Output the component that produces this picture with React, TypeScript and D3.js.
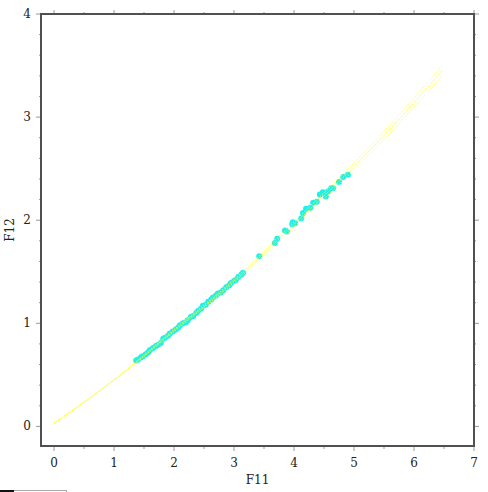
import React from "react";
import * as d3 from "d3";

// observed points (F11, F12)
const F11 = [
  1.37, 1.4, 1.45, 1.48, 1.53, 1.57, 1.6, 1.65, 1.7, 1.73, 1.78, 1.82, 1.85, 1.9, 1.93, 1.98,
  2.03, 2.07, 2.1, 2.15, 2.2, 2.23, 2.28, 2.32, 2.37, 2.4, 2.45, 2.48, 2.53, 2.57, 2.62, 2.65,
  2.7, 2.73, 2.78, 2.82, 2.87, 2.92, 2.95, 3.0, 3.03, 3.07, 3.12, 3.15, 3.42, 3.68, 3.72, 3.85,
  3.88, 3.97, 3.98, 4.02, 4.12, 4.15, 4.2, 4.27, 4.32, 4.38, 4.43, 4.48, 4.53, 4.57, 4.62, 4.65,
  4.75, 4.82, 4.9,
];
const F12 = [
  0.64, 0.65, 0.67, 0.68, 0.7, 0.72, 0.74, 0.76, 0.78, 0.79, 0.81, 0.85, 0.86, 0.88, 0.9, 0.92,
  0.94, 0.96, 0.98, 1.0, 1.01, 1.03, 1.06, 1.07, 1.1, 1.12, 1.14, 1.17, 1.18, 1.21, 1.23, 1.25,
  1.27, 1.29, 1.3, 1.32, 1.35, 1.37, 1.39, 1.41, 1.42, 1.45, 1.47, 1.49, 1.65, 1.78, 1.82, 1.9,
  1.89, 1.96, 1.98, 1.97, 2.02, 2.07, 2.11, 2.12, 2.17, 2.18, 2.25, 2.27, 2.23, 2.28, 2.31, 2.31,
  2.37, 2.42, 2.44,
];

// fitted curve and its band
const FIT_X = [0, 1, 2, 3, 4, 5, 6, 6.47];
const FIT_MID = [0.03, 0.45, 0.93, 1.41, 1.96, 2.52, 3.14, 3.45];
const FIT_HI = [0.03, 0.455, 0.94, 1.425, 1.985, 2.555, 3.185, 3.5];
const FIT_LO = [0.03, 0.445, 0.92, 1.395, 1.935, 2.485, 3.095, 3.4];

const X_TICKS = [0, 1, 2, 3, 4, 5, 6, 7];
const Y_TICKS = [0, 1, 2, 3, 4];

const W = 488;
const H = 492;
const L = 41, R = 474, T = 14, B = 446;
const FONT = "DejaVu Serif";

export default function App() {
  const x = d3.scaleLinear().domain([-0.217, 7]).range([L, R]);
  const y = d3.scaleLinear().domain([-0.19, 4]).range([B, T]);

  const mkPath = (vals: number[]) =>
    d3
      .line<number>()
      .curve(d3.curveMonotoneX)
      .x((_, i) => x(FIT_X[i]))
      .y((d) => y(d))(vals) || "";

  const xMinor = d3.range(0, 14.01, 1).map((d) => d / 2);
  const yMinor = d3.range(0, 20.01, 1).map((d) => d / 5);
  const tickGray = "#999";
  const axisCol = "#505050";

  return (
    <svg
      width={W}
      height={H}
      style={{ position: "absolute", left: 0, top: 0, background: "#fff" }}
      fontFamily={FONT}
    >
      {/* points */}
      {F11.map((v, i) => (
        <circle key={i} cx={x(v)} cy={y(F12[i])} r={3} fill="#22efe8" />
      ))}

      {/* fitted band (dotted) */}
      {[FIT_HI, FIT_LO].map((arr, k) => (
        <path key={k} d={mkPath(arr)} fill="none" stroke="#ffff33" strokeWidth={1} strokeDasharray="1,1.5" />
      ))}
      <path d={mkPath(FIT_MID)} fill="none" stroke="#ffff00" strokeWidth={1} strokeDasharray="1,1" />

      {/* ticks: left */}
      {yMinor.map((d, i) => {
        const major = Y_TICKS.includes(d);
        return (
          <line key={"l" + i} x1={L - (major ? 5 : 2)} x2={L} y1={y(d)} y2={y(d)} stroke={tickGray} />
        );
      })}
      {/* right */}
      {yMinor.map((d, i) => {
        const major = Y_TICKS.includes(d);
        return (
          <line key={"r" + i} x1={R} x2={R + (major ? 5 : 2)} y1={y(d)} y2={y(d)} stroke={tickGray} />
        );
      })}
      {/* bottom */}
      {xMinor.map((d, i) => {
        const major = X_TICKS.includes(d);
        return (
          <line key={"b" + i} x1={x(d)} x2={x(d)} y1={B} y2={B + (major ? 5 : 3)} stroke={tickGray} />
        );
      })}
      {/* top */}
      {xMinor.map((d, i) => {
        const major = X_TICKS.includes(d);
        return (
          <line key={"t" + i} x1={x(d)} x2={x(d)} y1={T - (major ? 4 : 2)} y2={T} stroke={tickGray} />
        );
      })}

      {/* frame */}
      <rect x={L} y={T} width={R - L} height={B - T} fill="none" stroke={axisCol} strokeWidth={2} />

      {/* tick labels */}
      {Y_TICKS.map((d) => (
        <text key={"yl" + d} x={L - 10} y={y(d) + 4} textAnchor="end" fontSize={12} fill="#222">
          {d}
        </text>
      ))}
      {X_TICKS.map((d) => (
        <text key={"xl" + d} x={x(d)} y={B + 21} textAnchor="middle" fontSize={12} fill="#222">
          {d}
        </text>
      ))}

      {/* axis titles */}
      <text x={(L + R) / 2} y={484} textAnchor="middle" fontSize={12} fill="#222">
        F11
      </text>
      <text
        transform={`translate(14,${(T + B) / 2}) rotate(-90)`}
        textAnchor="middle"
        fontSize={12}
        fill="#222"
      >
        F12
      </text>

      {/* little status bar at bottom left */}
      <rect x={0} y={490} width={14} height={2} fill="#111" />
      <line x1={14} x2={66} y1={490.5} y2={490.5} stroke="#aaa" />
      <line x1={66.5} x2={66.5} y1={490} y2={492} stroke="#aaa" />
    </svg>
  );
}
